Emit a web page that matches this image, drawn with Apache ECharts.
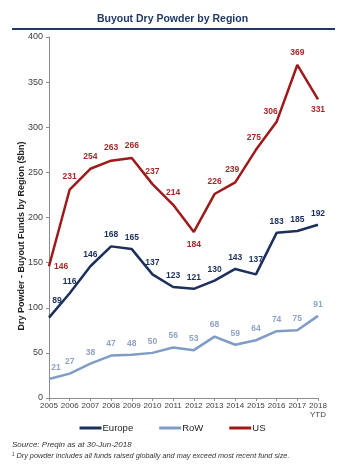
<!DOCTYPE html>
<html><head><meta charset="utf-8">
<script src="https://cdn.jsdelivr.net/npm/echarts@6/dist/echarts.min.js"></script>
<style>html,body{margin:0;padding:0;background:#fff}#c{width:345px;height:469px}</style>
</head><body><div id="c"></div>
<script>
const categories = ['2005','2006','2007','2008','2009','2010','2011','2012','2013','2014','2015','2016','2017','2018\nYTD'];
const europe = [89,116,146,168,165,137,123,121,130,143,137,183,185,192];
const row = [21,27,38,47,48,50,56,53,68,59,64,74,75,91];
const us = [146,231,254,263,266,237,214,184,226,239,275,306,369,331];
const yTicks = [0,50,100,150,200,250,300,350,400];

const font = 'Liberation Sans, Arial, sans-serif';
const cEU = '#1c2f5b', cROW = '#7f9cc6', cUS = '#9e1a1a';

function mk(vals, labelFn) {
  return vals.map((v, i) => { const l = labelFn(i); return l ? { value: v, label: l } : v; });
}
const usLab = i => {
  if (i === 0) return { position: 'right', distance: 5 };
  if (i === 7) return { position: 'bottom', distance: 8 };
  if (i === 13) return { position: 'bottom', distance: 6 };
  if (i === 11) return { offset: [-6, 2] };
  if (i === 9) return { offset: [-3, 0] };
  if (i === 10) return { offset: [-2, 0] };
  return null;
};
const euLab = i => {
  if (i === 0) return { offset: [8, -6] };
  if (i === 10) return { offset: [0, -3] };
  return null;
};
const rowLab = i => (i === 0 ? { offset: [7, 0] } : null);

const chart = echarts.init(document.getElementById('c'), null, { renderer: 'canvas' });
chart.setOption({
  animation: false,
  textStyle: { fontFamily: font },
  grid: { left: 49, right: 27, top: 37, bottom: 71, containLabel: false },
  legend: {
    bottom: 31, left: 'center',
    itemWidth: 22, itemHeight: 3, itemGap: 26,
    icon: 'rect',
    textStyle: { fontSize: 9.5, color: '#222', fontFamily: font, padding: [0, 0, 0, -4] },
    data: ['Europe', 'RoW', 'US']
  },
  xAxis: {
    type: 'category', data: categories, boundaryGap: false,
    axisLine: { lineStyle: { color: '#8c8c8c', width: 1 } },
    axisTick: { show: true, length: 3, alignWithLabel: true, lineStyle: { color: '#8c8c8c' } },
    axisLabel: { fontSize: 8, color: '#404040', margin: 3, interval: 0, lineHeight: 9, fontFamily: font }
  },
  yAxis: {
    type: 'value', min: 0, max: 400, interval: 50,
    splitLine: { show: false },
    axisLine: { show: true, lineStyle: { color: '#8c8c8c', width: 1 } },
    axisTick: { show: true, length: 3, lineStyle: { color: '#8c8c8c' } },
    axisLabel: { fontSize: 9, color: '#404040', margin: 6, fontFamily: font,
      formatter: v => yTicks.includes(v) ? String(v) : '' }
  },
  series: [
    { name: 'Europe', type: 'line', data: mk(europe, euLab), symbol: 'circle', symbolSize: 0, showSymbol: true,
      lineStyle: { color: cEU, width: 2.5 }, itemStyle: { color: cEU },
      label: { show: true, position: 'top', distance: 7, color: cEU, fontSize: 8.5, fontWeight: 'bold', fontFamily: font } },
    { name: 'RoW', type: 'line', data: mk(row, rowLab), symbol: 'circle', symbolSize: 0, showSymbol: true,
      lineStyle: { color: cROW, width: 2.5 }, itemStyle: { color: cROW },
      label: { show: true, position: 'top', distance: 7, color: '#8ea3c6', fontSize: 8.5, fontWeight: 'bold', fontFamily: font } },
    { name: 'US', type: 'line', data: mk(us, usLab), symbol: 'circle', symbolSize: 0, showSymbol: true,
      lineStyle: { color: cUS, width: 2.5 }, itemStyle: { color: cUS },
      label: { show: true, position: 'top', distance: 8, color: '#a52828', fontSize: 8.5, fontWeight: 'bold', fontFamily: font } }
  ],
  graphic: [
    { type: 'text', left: 'center', top: 14, style: { text: 'Buyout Dry Powder by Region', fontSize: 10.5, fontWeight: 'bold', fill: '#1f3864', fontFamily: font } },
    { type: 'rect', shape: { x: 12, y: 28, width: 323, height: 2 }, style: { fill: '#1f3864' } },
    { type: 'text', x: 22, y: 236, rotation: Math.PI / 2,
      style: { text: 'Dry Powder - Buyout Funds by Region ($bn)', fontSize: 9, fontWeight: 'bold', fill: '#222', fontFamily: font, align: 'center', verticalAlign: 'middle' } },
    { type: 'text', x: 12, y: 441, style: { text: 'Source: Preqin as at 30-Jun-2018', fontSize: 8, fontStyle: 'italic', fill: '#333', fontFamily: font } },
    { type: 'text', x: 12, y: 452, style: { text: '\u00B9 Dry powder includes all funds raised globally and may exceed most recent fund size.', fontSize: 7.3, fontStyle: 'italic', fill: '#333', fontFamily: font } }
  ]
});
</script></body></html>
